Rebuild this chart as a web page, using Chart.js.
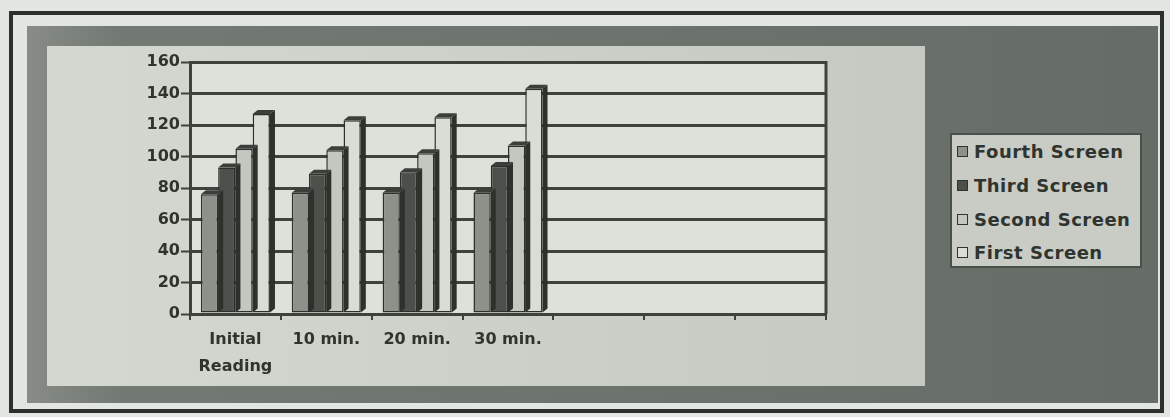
<!DOCTYPE html>
<html>
<head>
<meta charset="utf-8">
<title>Screen readings</title>
<script src="https://cdn.jsdelivr.net/npm/chart.js@4.4.1/dist/chart.umd.min.js"></script>
<style>
  html, body { margin: 0; padding: 0; background: #e2e6e0; }
  #wrap { position: relative; width: 1170px; height: 417px; overflow: hidden; }
  .frame { position: absolute; left: 9px; top: 11px; width: 1155px; height: 402px; border: 4px solid #2b302b; box-sizing: border-box; }
  .darkPanel { position: absolute; left: 27px; top: 26px; width: 1131px; height: 377px;
    background: linear-gradient(90deg, #878c86 0%, #737973 8%, #666c66 100%); }
  .lightPanel { position: absolute; left: 47px; top: 46px; width: 878px; height: 340px;
    background: linear-gradient(90deg, #d4d8d1, #c5c9c2); }
  #chart { position: absolute; left: 0; top: 0; }
  #legend { position: absolute; left: 950px; top: 133px; width: 192px; height: 135px; box-sizing: border-box;
    border: 2px solid #4a4f4a; background: #c8ccc5; padding: 0 0 0 5px; }
  .item { display: flex; align-items: center; height: 33.7px; font: bold 18px "DejaVu Sans"; letter-spacing: 0.5px;
    color: #2f342f; white-space: nowrap; }
  .swatch { width: 9px; height: 9px; border: 1.5px solid #2f342f; margin-right: 6px; flex: none; }
</style>
</head>
<body>
<div id="wrap">
  <div class="frame"></div>
  <div class="darkPanel"></div>
  <div class="lightPanel"></div>
  <canvas id="chart" width="1170" height="417"></canvas>
  <div id="legend"></div>
</div>
<script>
// Chart data
const categories = [['Initial', 'Reading'], '10 min.', '20 min.', '30 min.', '', '', ''];
const seriesNames = ['Fourth Screen', 'Third Screen', 'Second Screen', 'First Screen'];
const fourthScreen = [76, 77, 77, 77];
const thirdScreen = [93, 89, 90, 94];
const secondScreen = [105, 104, 102, 107];
const firstScreen = [127, 123, 125, 143];
const yTicks = [0, 20, 40, 60, 80, 100, 120, 140, 160];

const seriesColors = ['#8c918a', '#4b504a', '#c3c7bf', '#d9ddd6'];
const ink = '#2f342f';
const gridInk = '#3d423d';

/**
 * Fake 3D depth: dark side and top face for every bar
 */
const depthBars = {
  id: 'depthBars',
  afterDatasetDraw(chart, args) {
    const ctx = chart.ctx;
    const dx = 5, dy = 4;
    args.meta.data.forEach(bar => {
      const {x, y, base, width} = bar.getProps(['x', 'y', 'base', 'width'], true);
      const left = x - width / 2;
      const right = x + width / 2;
      ctx.save();
      ctx.fillStyle = '#2c312c';
      ctx.beginPath();
      ctx.moveTo(right, y);
      ctx.lineTo(right + dx, y - dy);
      ctx.lineTo(right + dx, base - dy);
      ctx.lineTo(right, base);
      ctx.closePath();
      ctx.fill();
      ctx.fillStyle = '#3a3f3a';
      ctx.beginPath();
      ctx.moveTo(left, y);
      ctx.lineTo(left + dx, y - dy);
      ctx.lineTo(right + dx, y - dy);
      ctx.lineTo(right, y);
      ctx.closePath();
      ctx.fill();
      ctx.restore();
    });
  }
};

/**
 * Plot wall background and right edge
 */
const plotWall = {
  id: 'plotWall',
  beforeDraw(chart) {
    const {ctx, chartArea: a} = chart;
    ctx.save();
    ctx.fillStyle = '#dde1da';
    ctx.fillRect(a.left, a.top, a.width, a.height);
    ctx.restore();
  },
  beforeDatasetsDraw(chart) {
    const {ctx, chartArea: a} = chart;
    ctx.save();
    ctx.strokeStyle = gridInk;
    ctx.lineWidth = 3;
    ctx.beginPath();
    ctx.moveTo(a.right, a.top - 1);
    ctx.lineTo(a.right, a.bottom);
    ctx.stroke();
    ctx.restore();
  }
};

const tickFont = { family: 'DejaVu Sans', size: 16, weight: 'bold', lineHeight: 1.65 };

const chart = new Chart(document.getElementById('chart'), {
  type: 'bar',
  data: {
    labels: categories,
    datasets: [fourthScreen, thirdScreen, secondScreen, firstScreen].map((values, i) => ({
      label: seriesNames[i],
      data: values,
      backgroundColor: seriesColors[i],
      borderColor: '#2b302b',
      borderWidth: 1.5,
      borderSkipped: false,
      categoryPercentage: 0.76,
      barPercentage: 1.0
    }))
  },
  options: {
    responsive: false,
    animation: false,
    devicePixelRatio: 1,
    layout: { padding: { left: 145, right: 344, top: 62, bottom: 33 } },
    plugins: {
      legend: { display: false },
      tooltip: { enabled: false }
    },
    scales: {
      x: {
        grid: { drawOnChartArea: false, drawTicks: true, tickLength: 6, color: gridInk, lineWidth: 2 },
        border: { display: true, color: gridInk, width: 3 },
        ticks: { font: tickFont, color: ink, padding: 7, maxRotation: 0, autoSkip: false },
        afterFit(scale) { scale.height = 70; }
      },
      y: {
        min: 0,
        max: 160,
        afterBuildTicks(scale) { scale.ticks = yTicks.map(v => ({ value: v })); },
        grid: { color: gridInk, lineWidth: 3, tickLength: 9, tickWidth: 2, tickColor: gridInk },
        border: { display: true, color: gridInk, width: 3 },
        ticks: { font: { family: 'DejaVu Sans', size: 16, weight: 'bold' }, color: ink, padding: 1 },
        afterFit(scale) { scale.width = 45; }
      }
    }
  },
  plugins: [plotWall, depthBars]
});

// HTML legend built from the chart's datasets
const legendEl = document.getElementById('legend');
chart.data.datasets.forEach(ds => {
  const item = document.createElement('div');
  item.className = 'item';
  const swatch = document.createElement('span');
  swatch.className = 'swatch';
  swatch.style.background = ds.backgroundColor;
  const text = document.createElement('span');
  text.textContent = ds.label;
  item.appendChild(swatch);
  item.appendChild(text);
  legendEl.appendChild(item);
});
</script>
</body>
</html>
